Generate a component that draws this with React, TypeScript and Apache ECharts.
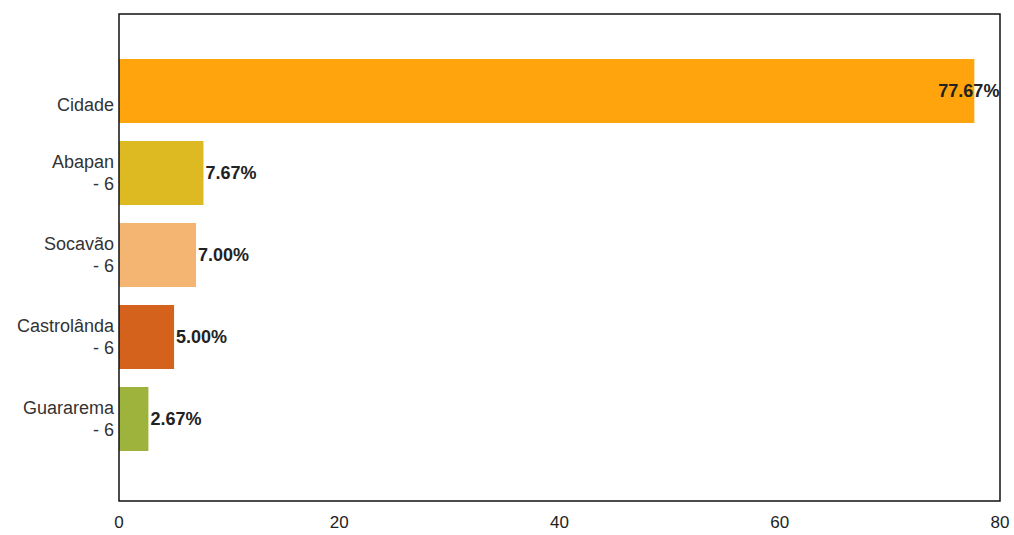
import React, { useEffect, useRef } from "react";
import * as echarts from "echarts";

const categories = ["Cidade", "Abapan\n- 6", "Socavão\n- 6", "Castrolânda\n- 6", "Guararema\n- 6"];
const values = [77.67, 7.67, 7.0, 5.0, 2.67];
const colors = ["#FFA40C", "#DDB922", "#F4B572", "#D4621C", "#9DB33B"];
const xTicks = { min: 0, max: 80, interval: 20 };

export default function App() {
  const ref = useRef<HTMLDivElement>(null);
  useEffect(() => {
    if (!ref.current) return;
    const chart = echarts.init(ref.current, null, { renderer: "svg" });
    const data = values.map((v, i) => ({
      value: v,
      itemStyle: { color: colors[i] },
      label: i === 0 ? { position: "right", offset: [-38, 0] } : undefined,
    }));
    chart.setOption({
      animation: false,
      backgroundColor: "#ffffff",
      grid: { left: 119, right: 14, top: 50, bottom: 75, containLabel: false },
      xAxis: {
        type: "value",
        min: xTicks.min,
        max: xTicks.max,
        interval: xTicks.interval,
        offset: 41,
        axisLine: { show: false },
        axisTick: { show: false },
        splitLine: { show: false },
        axisLabel: { fontFamily: "Liberation Sans", fontSize: 17, color: "#222", margin: 13 },
      },
      yAxis: {
        type: "category",
        data: categories,
        inverse: true,
        axisLine: { show: false },
        axisTick: { show: false },
        axisLabel: {
          fontFamily: "Liberation Sans",
          fontSize: 18,
          color: "#333",
          lineHeight: 22,
          align: "right",
          margin: 5,
          formatter: (v: string) => (v.includes("\n") ? v : "{low|" + v + "}"),
          rich: {
            low: {
              fontFamily: "Liberation Sans",
              fontSize: 18,
              color: "#333",
              lineHeight: 22,
              padding: [28, 0, 0, 0],
            },
          },
        },
      },
      series: [
        {
          type: "bar",
          data,
          barCategoryGap: "22%",
          label: {
            show: true,
            position: "right",
            distance: 2,
            formatter: (p: any) => p.value.toFixed(2) + "%",
            fontFamily: "Liberation Sans",
            fontWeight: "bold",
            fontSize: 18,
            color: "#222",
          },
        },
      ],
      graphic: [
        {
          type: "rect",
          shape: { x: 119, y: 14, width: 881, height: 487 },
          style: { fill: "none", stroke: "#111", lineWidth: 1.5 },
          silent: true,
          z: 100,
        },
      ],
    });
    return () => chart.dispose();
  }, []);
  return (
    <div
      ref={ref}
      style={{ position: "absolute", left: 0, top: 0, width: 1014, height: 535 }}
    />
  );
}
